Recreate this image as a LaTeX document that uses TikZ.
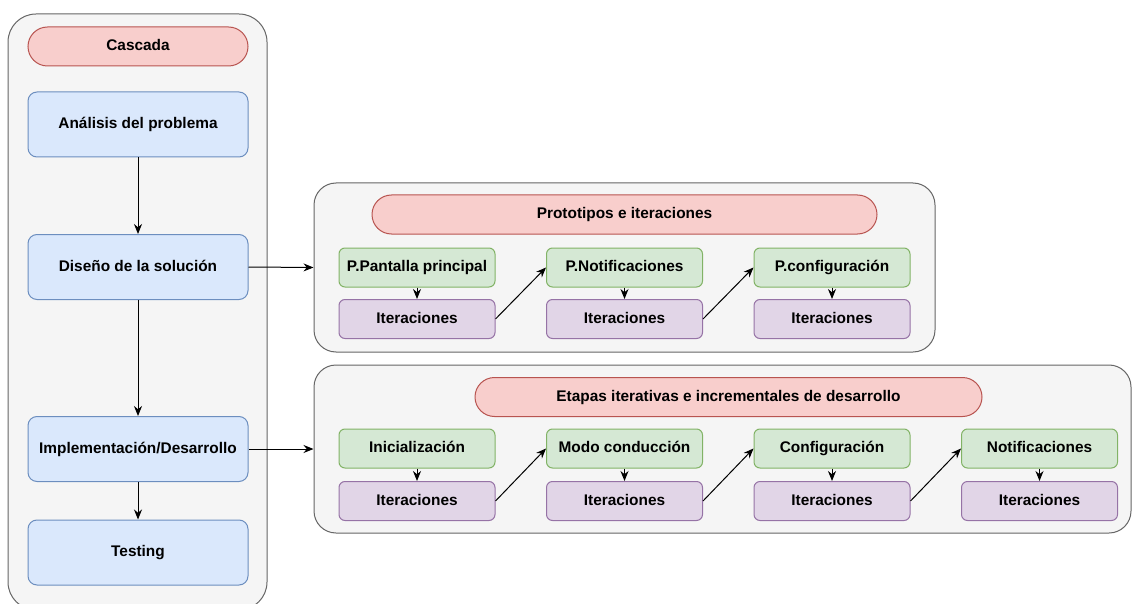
\documentclass[tikz,border=0pt]{standalone}
\usepackage{fontspec}
\setmainfont{Liberation Sans}
\usetikzlibrary{arrows.meta}
\definecolor{contfill}{HTML}{F5F5F5}
\definecolor{contline}{HTML}{666666}
\definecolor{redfill}{HTML}{F8CECC}
\definecolor{redline}{HTML}{B85450}
\definecolor{bluefill}{HTML}{DAE8FC}
\definecolor{blueline}{HTML}{6C8EBF}
\definecolor{greenfill}{HTML}{D5E8D4}
\definecolor{greenline}{HTML}{82B366}
\definecolor{purplefill}{HTML}{E1D5E7}
\definecolor{purpleline}{HTML}{9673A6}
\tikzset{
  base/.style={font=\fontsize{15.4}{18}\selectfont\bfseries, inner sep=0pt, line width=1pt,
    text height=11pt, text depth=3pt},
  container/.style={base, draw=contline, fill=contfill, rounded corners=22pt},
  pill/.style={base, draw=redline, fill=redfill, rounded corners=19.5pt, minimum height=39pt},
  phase/.style={base, draw=blueline, fill=bluefill, rounded corners=9pt, minimum width=220pt, minimum height=65pt},
  proto/.style={base, draw=greenline, fill=greenfill, rounded corners=6pt, minimum width=156pt, minimum height=39pt},
  iter/.style={base, draw=purpleline, fill=purplefill, rounded corners=6pt, minimum width=156pt, minimum height=39pt},
  link/.style={line width=1pt, -{Stealth[length=10pt,width=8pt]}},
}
\begin{document}
\begin{tikzpicture}[x=1pt,y=-1pt]
\useasboundingbox (0,0) rectangle (1132,604);
\clip (0,0) rectangle (1132,604);

% waterfall column
\node[container, rounded corners=28pt, minimum width=259pt, minimum height=596pt] (lc) at (137.5,312) {};
\node[pill, minimum width=220pt] (casc) at (138,46.5) {Cascada};
\node[phase] (ana) at (138,124.5) {Análisis del problema};
\node[phase] (dis) at (138,267) {Diseño de la solución};
\node[phase] (imp) at (138,449) {Implementación/Desarrollo};
\node[phase] (tes) at (138,552.5) {Testing};
\draw[link] (ana) -- (dis);
\draw[link] (dis) -- (imp);
\draw[link] (imp) -- (tes);

% prototypes and iterations
\node[container, minimum width=621pt, minimum height=169pt] (pc) at (624.5,267.5) {};
\node[pill, minimum width=505pt] (pt) at (624.5,214.5) {Prototipos e iteraciones};
\node[proto] (pa) at (417,267.5) {P.Pantalla principal};
\node[iter]  (pai) at (417,319) {Iteraciones};
\node[proto] (pb) at (624.5,267.5) {P.Notificaciones};
\node[iter]  (pbi) at (624.5,319) {Iteraciones};
\node[proto] (pcf) at (832,267.5) {P.configuración};
\node[iter]  (pcfi) at (832,319) {Iteraciones};
\draw[link] (pa) -- (pai);
\draw[link] (pb) -- (pbi);
\draw[link] (pcf) -- (pcfi);
\draw[link] (pai.east) -- (pb.west);
\draw[link] (pbi.east) -- (pcf.west);

% iterative and incremental stages
\node[container, minimum width=817pt, minimum height=168pt] (ec) at (722.5,449) {};
\node[pill, minimum width=507pt] (et) at (728.5,397) {Etapas iterativas e incrementales de desarrollo};
\node[proto] (ea) at (417,448.5) {Inicialización};
\node[iter]  (eai) at (417,501) {Iteraciones};
\node[proto] (eb) at (624.5,448.5) {Modo conducción};
\node[iter]  (ebi) at (624.5,501) {Iteraciones};
\node[proto] (ecf) at (832,448.5) {Configuración};
\node[iter]  (ecfi) at (832,501) {Iteraciones};
\node[proto] (ed) at (1039.5,448.5) {Notificaciones};
\node[iter]  (edi) at (1039.5,501) {Iteraciones};
\draw[link] (ea) -- (eai);
\draw[link] (eb) -- (ebi);
\draw[link] (ecf) -- (ecfi);
\draw[link] (ed) -- (edi);
\draw[link] (eai.east) -- (eb.west);
\draw[link] (ebi.east) -- (ecf.west);
\draw[link] (ecfi.east) -- (ed.west);

% phases feeding the detailed groups
\draw[link] (dis.east) -- (pc.west);
\draw[link] (imp.east) -- (ec.west);
\end{tikzpicture}
\end{document}
